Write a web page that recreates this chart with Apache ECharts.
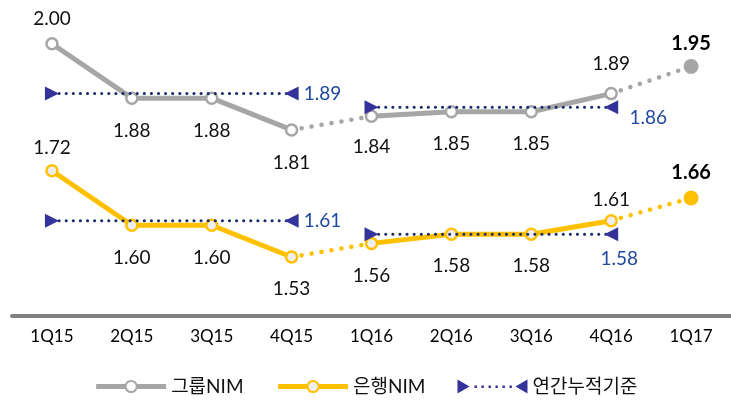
<!DOCTYPE html>
<html><head><meta charset="utf-8">
<script src="https://cdn.jsdelivr.net/npm/echarts@6/dist/echarts.min.js"></script>
<style>html,body{margin:0;padding:0;background:#fff}#c{width:731px;height:403px}</style>
</head><body><div id="c"></div>
<script>
const categories = ['1Q15','2Q15','3Q15','4Q15','1Q16','2Q16','3Q16','4Q16','1Q17'];
const groupNIM = [2.00,1.88,1.88,1.81,1.84,1.85,1.85,1.89,1.95];
const bankNIM  = [1.72,1.60,1.60,1.53,1.56,1.58,1.58,1.61,1.66];
const annualGroup = [1.89, 1.86];
const annualBank  = [1.61, 1.58];
const annualSpans = [[0,3],[4,7]];
const solidSpans = [[0,3],[4,7]];
const dottedSpans = [[3,4],[7,8]];
const forecastIndex = 8;
const seriesNames = ['그룹NIM','은행NIM','연간누적기준'];

// style-only arrays (label offsets)
const groupLabelDy = [-25,33,33,33,31,32,32,-30,-23];
const bankLabelDy  = [-23,33,33,32,32,32,32,-21,-25];
const groupAnnualLabelOffsets = [[31,0],[37,11]];
const bankAnnualLabelOffsets = [[31,0],[8,25]];

const FONT = "Lato, 'Noto Sans CJK KR', sans-serif";
const NAVY = '#1b2a6b', TRI = '#333399', BLUE = '#1f48a0';

function mask(arr, lo, hi){ return arr.map((v,i)=> (i>=lo && i<=hi) ? v : '-'); }

function nimSeries(name, values, color, fill, dy){
  const out = [];
  solidSpans.forEach((sp, k)=>{
    out.push({
      name: k===0 ? name : name+'_s'+k, type:'line', z:3,
      data: mask(values, sp[0], sp[1]).map((v,i)=> v==='-' ? '-' : {value:v, label:{offset:[0, dy[i]]}}),
      symbol:'circle', symbolSize:11, showAllSymbol:true,
      lineStyle:{color, width:5}, itemStyle:{color:fill, borderColor:color, borderWidth:2.5},
      label:{show:true, position:'inside', color:'#111', fontSize:19, fontFamily:FONT,
        formatter:p=>p.value.toFixed(2)},
      emphasis:{disabled:true}, animation:false
    });
  });
  const dotted = values.map(()=>'-');
  dottedSpans.forEach(sp=>{ for(let i=sp[0];i<=sp[1];i++) dotted[i]=values[i]; });
  out.push({
    name: name+'_d', type:'line', z:2, data: dotted, symbol:'none',
    lineStyle:{color, width:4.5, type:[0.1,10], cap:'round'},
    emphasis:{disabled:true}, animation:false
  });
  out.push({
    name: name+'_f', type:'line', z:4,
    data: mask(values, forecastIndex, forecastIndex).map((v,i)=> v==='-' ? '-' : {value:v, label:{offset:[0, dy[i]]}}),
    symbol:'circle', symbolSize:15, itemStyle:{color},
    label:{show:true, position:'inside', color:'#000', fontSize:20, fontWeight:'bold', fontFamily:FONT,
      formatter:p=>p.value.toFixed(2)},
    emphasis:{disabled:true}, animation:false
  });
  return out;
}

function annualSeries(vals, offsets, legendName, tag){
  return annualSpans.map((sp, k)=>({
    name: k===0 && legendName ? legendName : 'annual_'+tag+k,
    type:'line', z:6,
    data: categories.map((c,i)=>{
      if(i<sp[0]||i>sp[1]) return '-';
      if(i===sp[0]) return {value:vals[k], symbol:'triangle', symbolRotate:-90};
      if(i===sp[1]) return {value:vals[k], symbol:'triangle', symbolRotate:90,
        label:{show:true, position:'inside', offset:offsets[k], color:BLUE, fontSize:19, fontFamily:FONT,
          formatter:p=>p.value.toFixed(2)}};
      return {value:vals[k], symbol:'none'};
    }),
    symbolSize:[14,14], showAllSymbol:true,
    itemStyle:{color:TRI},
    lineStyle:{color:NAVY, width:3, type:[0.1,7], cap:'round'},
    emphasis:{disabled:true}, animation:false
  }));
}

const series = [
  ...nimSeries(seriesNames[0], groupNIM, '#a6a6a6', '#ffffff', groupLabelDy),
  ...nimSeries(seriesNames[1], bankNIM, '#ffc000', '#eeeeee', bankLabelDy),
  ...annualSeries(annualGroup, groupAnnualLabelOffsets, seriesNames[2], 'g'),
  ...annualSeries(annualBank, bankAnnualLabelOffsets, null, 'b')
];

const chart = echarts.init(document.getElementById('c'), null, {renderer:'canvas'});
chart.setOption({
  backgroundColor:'#fff',
  animation:false,
  grid:{left:12, right:-5, top:21, bottom:87},
  xAxis:{type:'category', data:categories, boundaryGap:true,
    axisLine:{show:true, lineStyle:{color:'#808080', width:4}},
    axisTick:{show:false},
    axisLabel:{color:'#000', fontSize:17, fontFamily:FONT, margin:12}},
  yAxis:{type:'value', min:1.4, max:2.05, show:false, splitLine:{show:false}},
  legend:{
    data:[
      {name:seriesNames[0], lineStyle:{width:5}},
      {name:seriesNames[1], lineStyle:{width:5}},
      {name:seriesNames[2], icon:'path://M0,0 L12,7 L0,14 Z M70,0 L58,7 L70,14 Z M17,6 h2.4 v2.4 h-2.4 Z M24,6 h2.4 v2.4 h-2.4 Z M31,6 h2.4 v2.4 h-2.4 Z M38,6 h2.4 v2.4 h-2.4 Z M45,6 h2.4 v2.4 h-2.4 Z M52,6 h2.4 v2.4 h-2.4 Z'}
    ],
    bottom:2, left:'center', itemWidth:70, itemHeight:14, itemGap:32,
    textStyle:{color:'#111', fontSize:19, fontFamily:FONT},
    selectedMode:false
  },
  series
});
</script></body></html>
